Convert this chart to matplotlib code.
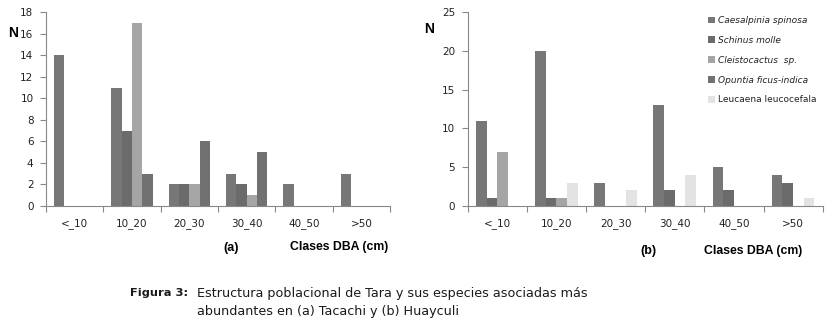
import numpy as np
import matplotlib.pyplot as plt
from matplotlib.patches import Patch

# datos
clases = ['<_10', '10_20', '20_30', '30_40', '40_50', '>50']

# (a) Tacachi
a_caesalpinia = [14, 11, 2, 3, 2, 3]
a_schinus = [0, 7, 2, 2, 0, 0]
a_cleistocactus = [0, 17, 2, 1, 0, 0]
a_opuntia = [0, 3, 6, 5, 0, 0]

# (b) Huayculi
b_caesalpinia = [11, 20, 3, 13, 5, 4]
b_schinus = [1, 1, 0, 2, 2, 3]
b_cleistocactus = [7, 1, 0, 0, 0, 0]
b_leucaena = [0, 3, 2, 4, 0, 1]

especies = ['Caesalpinia spinosa', 'Schinus molle', 'Cleistocactus  sp.',
            'Opuntia ficus-indica', 'Leucaena leucocefala']
colores = ['#777777', '#6b6b6b', '#a5a5a5', '#717171', '#e3e3e3']

fig = plt.figure(figsize=(8.29, 3.27), dpi=100)

def panel(rect, series, cols, ymax, ystep):
    ax = fig.add_axes(rect)
    x = np.arange(len(clases))
    w = 0.18
    for k, (vals, c) in enumerate(zip(series, cols)):
        ax.bar(x + 0.14 + w * (k + 0.5), vals, width=w, color=c, linewidth=0)
    ax.set_xlim(0, len(clases))
    ax.set_ylim(0, ymax)
    ax.set_yticks(np.arange(0, ymax + 1, ystep))
    ax.set_xticks(np.arange(0, len(clases) + 1))
    ax.set_xticklabels([])
    ax.set_xticks(x + 0.5, minor=True)
    ax.set_xticklabels(clases, minor=True)
    ax.tick_params(axis='x', which='minor', length=0, pad=9, labelsize=7.5, colors='#222222')
    ax.tick_params(axis='x', which='major', length=4, color='#888888', direction='out')
    ax.tick_params(axis='y', length=4, color='#888888', labelsize=7.5, colors='#222222', pad=5)
    for s in ['top', 'right']:
        ax.spines[s].set_visible(False)
    for s in ['left', 'bottom']:
        ax.spines[s].set_color('#888888')
    return ax

ax1 = panel([0.0555, 0.370, 0.415, 0.593],
            [a_caesalpinia, a_schinus, a_cleistocactus, a_opuntia],
            colores[:4], 18, 2)
ax2 = panel([0.5642, 0.370, 0.4282, 0.593],
            [b_caesalpinia, b_schinus, b_cleistocactus, b_leucaena],
            [colores[0], colores[1], colores[2], colores[4]], 25, 5)

# textos en negrita (tipo Arial)
arial = ['Liberation Sans', 'DejaVu Sans']
fig.text(8 / 829, 1 - 33 / 327, 'N', fontsize=10, fontweight='bold', va='center', family=arial)
fig.text(424 / 829, 1 - 29 / 327, 'N', fontsize=10, fontweight='bold', va='center', family=arial)
fig.text(231 / 829, 1 - 248 / 327, '(a)', fontsize=9, fontweight='bold', va='center', ha='center', family=arial)
fig.text(290 / 829, 1 - 247 / 327, 'Clases DBA (cm)', fontsize=8.8, fontweight='bold', va='center', family=arial)
fig.text(648 / 829, 1 - 251 / 327, '(b)', fontsize=9, fontweight='bold', va='center', ha='center', family=arial)
fig.text(704 / 829, 1 - 251 / 327, 'Clases DBA (cm)', fontsize=8.8, fontweight='bold', va='center', family=arial)

# leyenda
handles = [Patch(facecolor=c, edgecolor='none') for c in colores]
leg = fig.legend(handles, especies, loc='upper left', bbox_to_anchor=(700 / 829, 1 - 8 / 327),
                 frameon=False, fontsize=6.5, handlelength=0.8, handleheight=0.8,
                 handletextpad=0.3, labelspacing=1.2)
for i, t in enumerate(leg.get_texts()):
    if i < 4:
        t.set_style('italic')
    t.set_color('#222222')

# pie de figura
pie = dict(va='center', family='DejaVu Sans', color='#1a1a1a')
fig.text(130 / 829, 1 - 293 / 327, 'Figura 3:', fontsize=8.2, fontweight='bold', **pie)
fig.text(197 / 829, 1 - 293 / 327, 'Estructura poblacional de Tara y sus especies asociadas más',
         fontsize=9.2, **pie)
fig.text(197 / 829, 1 - 312 / 327, 'abundantes en (a) Tacachi y (b) Huayculi', fontsize=9.2, **pie)

fig.savefig('out.png', dpi=100)
